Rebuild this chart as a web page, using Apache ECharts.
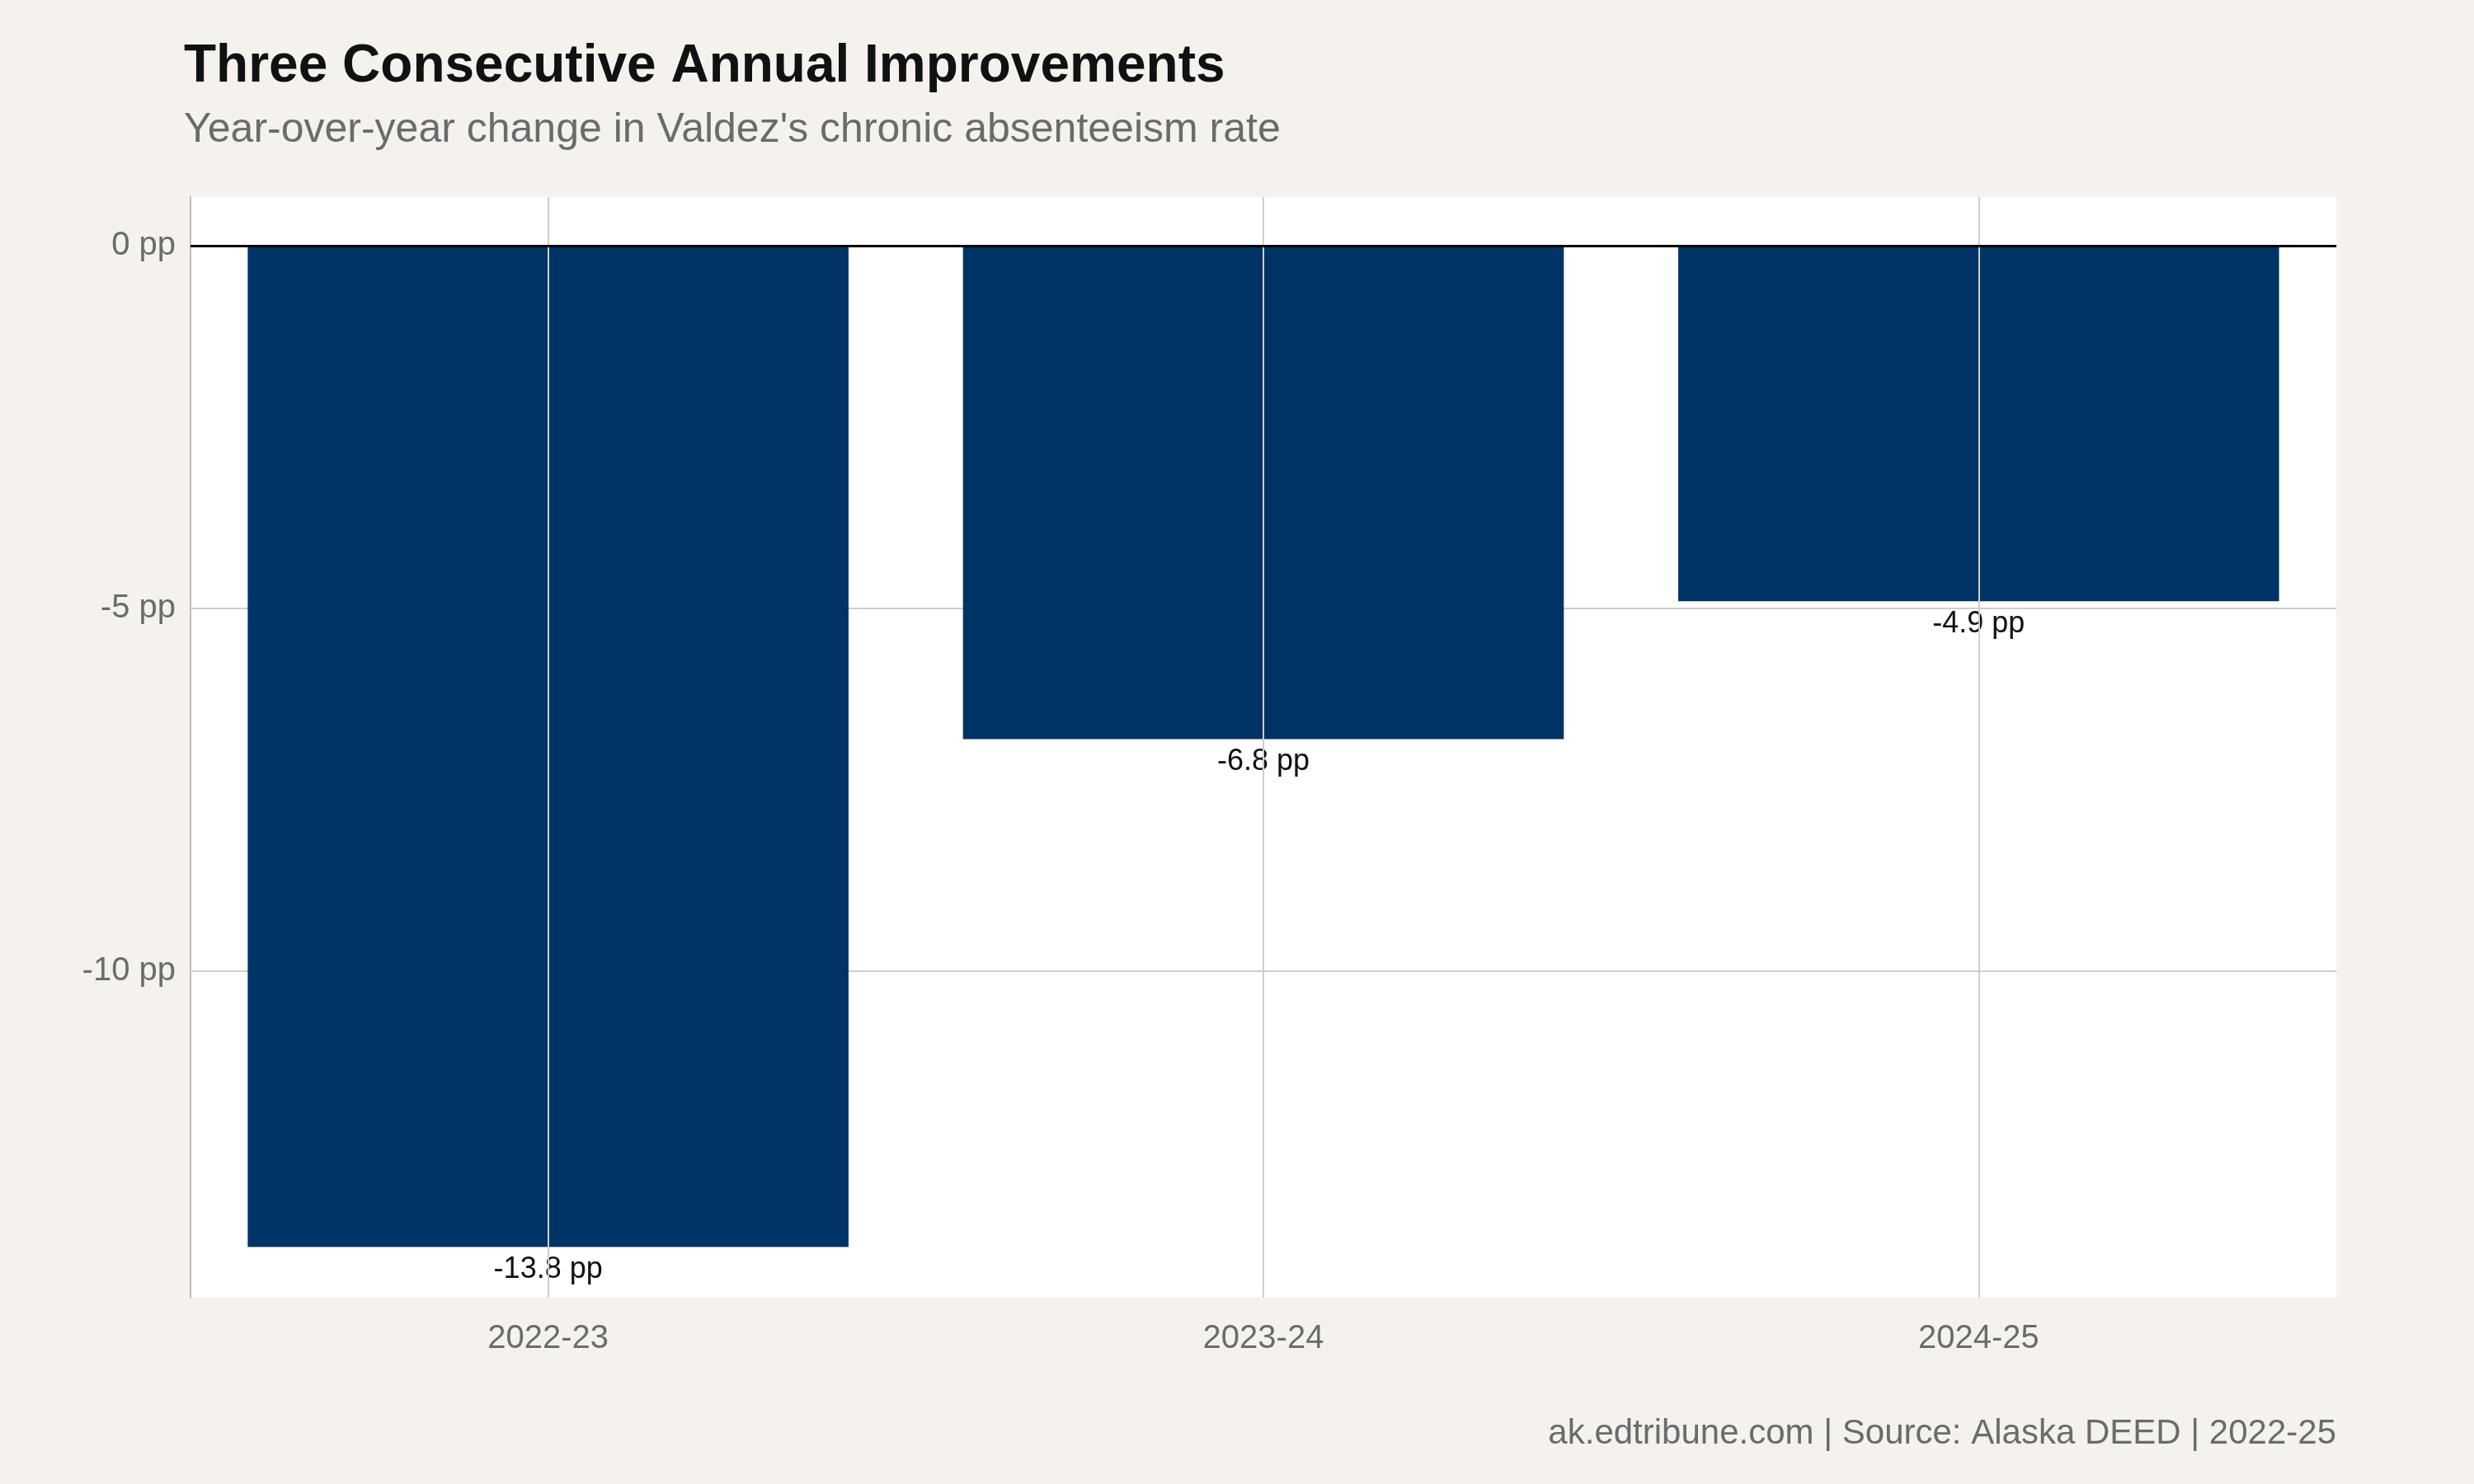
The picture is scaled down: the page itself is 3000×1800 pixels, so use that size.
<!DOCTYPE html>
<html><head><meta charset="utf-8">
<script src="https://cdn.jsdelivr.net/npm/echarts@6/dist/echarts.min.js"></script>
<style>html,body{margin:0;background:#f5f2ed}#c{width:3000px;height:1800px}</style>
</head><body><div id="c"></div>
<script>
const categories = ['2022-23','2023-24','2024-25'];
const changes = [-13.8, -6.8, -4.9];
const yTicks = [-10, -5, 0];
const F = 'Liberation Sans, Arial, sans-serif';
const chart = echarts.init(document.getElementById('c'));
chart.setOption({
  backgroundColor: '#f5f2ed',
  animation: false,
  title: {
    text: 'Three Consecutive Annual Improvements',
    subtext: "Year-over-year change in Valdez's chronic absenteeism rate",
    left: 218, top: 44, itemGap: 20,
    textStyle: {fontFamily: F, fontSize: 64, fontWeight: 'bold', color: '#111'},
    subtextStyle: {fontFamily: F, fontSize: 50, color: '#6b6b6b'}
  },
  graphic: [{type: 'text', right: 167, top: 1718,
    style: {text: 'ak.edtribune.com | Source: Alaska DEED | 2022-25', font: '42px ' + F, fill: '#6b6b6b'}}],
  grid: {left: 231, right: 167, top: 239, bottom: 226, show: true, backgroundColor: '#fff', borderWidth: 0},
  xAxis: {type: 'category', data: categories,
    axisLine: {lineStyle: {color: '#bdbdb5', width: 2}},
    axisTick: {show: false},
    axisLabel: {fontFamily: F, fontSize: 40, color: '#6b6b6b', margin: 30}},
  yAxis: {type: 'value', min: -14.5, max: 0.67,
    axisLine: {show: true, lineStyle: {color: '#bdbdb5', width: 2}},
    axisTick: {show: false, customValues: yTicks},
    axisLabel: {customValues: yTicks, fontFamily: F, fontSize: 40, color: '#6b6b6b', margin: 18,
      formatter: v => v + ' pp'},
    splitLine: {show: true, lineStyle: {color: '#cfcfc8', width: 2}}},
  series: [
    {type: 'line', data: [], z: 1, silent: true,
     markLine: {symbol: 'none', silent: true, label: {show: false},
       lineStyle: {color: '#cfcfc8', width: 2, type: 'solid'},
       data: categories.map(c => ({xAxis: c}))}},
    {type: 'bar', data: changes, barWidth: '84%', z: 3,
     itemStyle: {color: '#003366'},
     label: {show: true, position: 'bottom', distance: 10, fontFamily: F, fontSize: 36, color: '#111',
       formatter: p => p.value + ' pp'},
     markLine: {symbol: 'none', silent: true, label: {show: false},
       lineStyle: {color: '#000', width: 3, type: 'solid'}, data: [{yAxis: 0}]}}
  ]
});
</script></body></html>
